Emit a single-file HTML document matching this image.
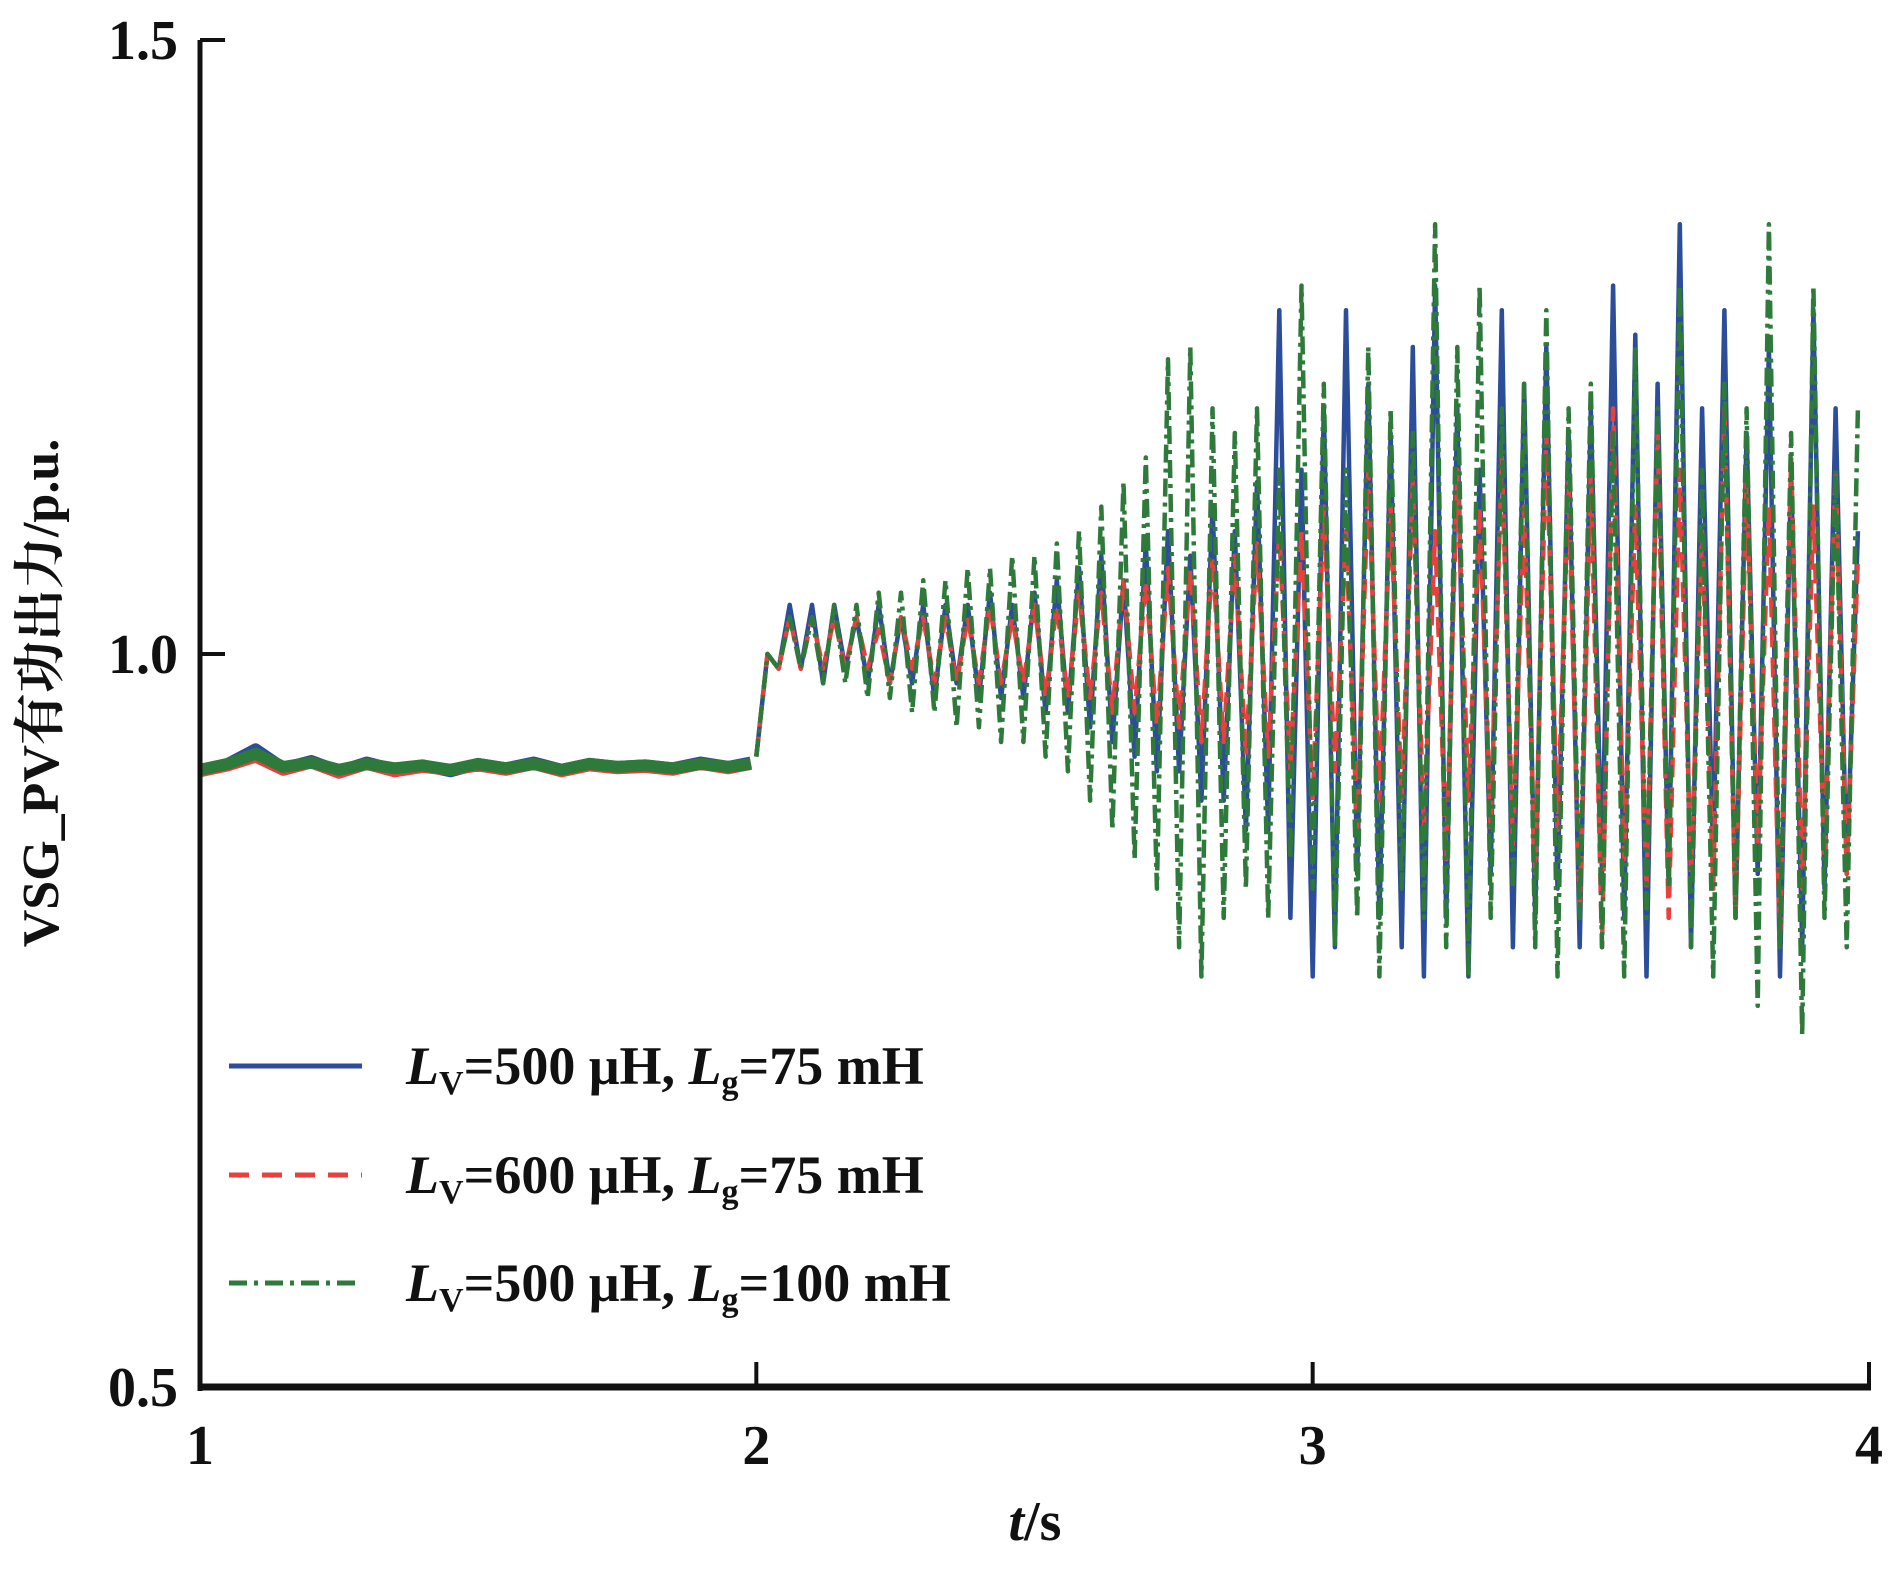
<!DOCTYPE html>
<html><head><meta charset="utf-8"><style>
body{margin:0;background:#fff}
svg text{font-family:"Liberation Serif","Noto Serif CJK SC",serif;fill:#111;font-weight:bold}
</style></head><body>
<svg width="1890" height="1591" viewBox="0 0 1890 1591">
<g id="plot"></g>
<g id="axes"></g>
<g>
 <g>
  <line x1="229" y1="1066" x2="362" y2="1066" stroke="#2c4d99" stroke-width="5"/>
  <text x="406" y="1084" font-size="54"><tspan font-style="italic">L</tspan><tspan font-size="34" dy="10">V</tspan><tspan dy="-10">=500 μH, </tspan><tspan font-style="italic">L</tspan><tspan font-size="34" dy="10">g</tspan><tspan dy="-10">=75 mH</tspan></text>
 </g>
 <g>
  <line x1="229" y1="1175" x2="362" y2="1175" stroke="#e8403c" stroke-width="5" stroke-dasharray="20 13"/>
  <text x="406" y="1193" font-size="54"><tspan font-style="italic">L</tspan><tspan font-size="34" dy="10">V</tspan><tspan dy="-10">=600 μH, </tspan><tspan font-style="italic">L</tspan><tspan font-size="34" dy="10">g</tspan><tspan dy="-10">=75 mH</tspan></text>
 </g>
 <g>
  <line x1="229" y1="1283" x2="362" y2="1283" stroke="#2e7a3a" stroke-width="5" stroke-dasharray="18 7 4 7"/>
  <text x="406" y="1301" font-size="54"><tspan font-style="italic">L</tspan><tspan font-size="34" dy="10">V</tspan><tspan dy="-10">=500 μH, </tspan><tspan font-style="italic">L</tspan><tspan font-size="34" dy="10">g</tspan><tspan dy="-10">=100 mH</tspan></text>
 </g>
</g>
<text x="1035" y="1540" font-size="56" text-anchor="middle"><tspan font-style="italic">t</tspan>/s</text>
<text transform="translate(58,693) rotate(-90)" font-size="52" text-anchor="middle">VSG_PV有功出力/p.u.</text>
</svg>
<script>
const xTicks=[1,2,3,4];
const yTicks=[0.5,1.0,1.5];
const yTickLabels=["0.5","1.0","1.5"];
const preTimes=[1.0,1.05,1.1,1.15,1.2,1.25,1.3,1.35,1.4,1.45,1.5,1.55,1.6,1.65,1.7,1.75,1.8,1.85,1.9,1.95,1.99];
const bluePre=[0.92,0.925,0.935,0.922,0.927,0.92,0.926,0.921,0.924,0.92,0.925,0.922,0.926,0.921,0.925,0.923,0.924,0.922,0.926,0.923,0.926];
const redPre=[0.92,0.924,0.93,0.921,0.926,0.919,0.925,0.92,0.923,0.921,0.924,0.921,0.925,0.92,0.924,0.922,0.923,0.921,0.925,0.922,0.925];
const greenPre=[0.921,0.925,0.932,0.923,0.926,0.921,0.925,0.922,0.924,0.921,0.925,0.922,0.925,0.921,0.925,0.923,0.924,0.922,0.925,0.923,0.925];
const tStart=2.0, tStep=0.02;
const blueVals=[0.93,1.0,0.99,1.04,0.99,1.04,0.98,1.04,0.99,1.03,0.98,1.04,0.98,1.03,0.98,1.04,0.97,1.04,0.98,1.04,0.97,1.05,0.97,1.04,0.97,
1.05,0.96,1.06,0.96,1.07,0.95,1.08,0.94,1.06,0.93,1.09,0.92,1.1,0.92,1.08,0.9,1.12,0.9,1.1,0.88,1.14,0.88,1.28,0.82,1.15,
0.78,1.2,0.8,1.28,0.85,1.22,0.82,1.18,0.8,1.25,0.78,1.3,0.82,1.2,0.78,1.15,0.85,1.28,0.8,1.22,0.82,1.25,0.84,1.18,0.8,
1.2,0.85,1.3,0.82,1.26,0.78,1.22,0.84,1.35,0.8,1.2,0.86,1.28,0.82,1.18,0.85,1.25,0.78,1.15,0.8,1.28,0.84,1.2,0.85,1.1];
const redVals=[0.93,1.0,0.99,1.03,0.99,1.03,0.99,1.03,0.99,1.03,0.99,1.02,0.98,1.03,0.99,1.03,0.98,1.03,0.98,1.03,0.98,1.04,0.98,1.03,0.98,
1.04,0.97,1.04,0.97,1.05,0.97,1.05,0.96,1.06,0.96,1.06,0.95,1.07,0.95,1.07,0.94,1.08,0.94,1.08,0.93,1.09,0.93,1.1,0.92,1.1,
0.9,1.12,0.92,1.1,0.88,1.15,0.9,1.12,0.9,1.14,0.88,1.1,0.86,1.15,0.9,1.12,0.88,1.16,0.87,1.12,0.85,1.18,0.88,1.14,0.82,
1.15,0.8,1.2,0.86,1.12,0.84,1.18,0.82,1.15,0.85,1.1,0.84,1.2,0.82,1.14,0.87,1.12,0.8,1.16,0.84,1.12,0.86,1.15,0.85,1.08];
const greenVals=[0.93,1.0,0.99,1.03,0.99,1.03,0.98,1.04,0.98,1.04,0.97,1.05,0.97,1.05,0.96,1.06,0.96,1.06,0.95,1.07,0.95,1.07,0.94,1.08,0.94,
1.08,0.93,1.09,0.92,1.1,0.9,1.12,0.88,1.14,0.86,1.16,0.84,1.24,0.8,1.25,0.78,1.2,0.82,1.18,0.84,1.2,0.82,1.15,0.86,1.3,
0.84,1.22,0.8,1.15,0.82,1.25,0.78,1.2,0.84,1.18,0.82,1.35,0.8,1.25,0.78,1.3,0.82,1.2,0.84,1.22,0.8,1.28,0.78,1.2,0.82,
1.22,0.8,1.18,0.78,1.25,0.82,1.2,0.84,1.3,0.8,1.15,0.78,1.22,0.82,1.2,0.76,1.35,0.8,1.18,0.74,1.3,0.82,1.15,0.8,1.2];
const X0=200,X1=1869;
function xs(t){return X0+(t-1)/3*(X1-X0);}
const yPix=[1387,654,40];
function ys(v){ if(v<=1.0) return yPix[0]+(v-0.5)/0.5*(yPix[1]-yPix[0]); return yPix[1]+(v-1.0)/0.5*(yPix[2]-yPix[1]);}
const NS="http://www.w3.org/2000/svg";
const plot=document.getElementById('plot'),axes=document.getElementById('axes');
function mk(tag,attrs,parent){const e=document.createElementNS(NS,tag);for(const k in attrs)e.setAttribute(k,attrs[k]);parent.appendChild(e);return e;}
const series=[["blue",bluePre,blueVals,"#2c4d99","none"],["red",redPre,redVals,"#e8403c","20 10"],["green",greenPre,greenVals,"#2e7a3a","18 6 4 6"]];
series.forEach(s=>{
  const pre=preTimes.map((t,i)=>xs(t).toFixed(1)+","+ys(s[1][i]).toFixed(1)).join(" ");
  const p1=mk('polyline',{points:pre,fill:"none",stroke:s[3],"stroke-width":12,"stroke-linejoin":"round"},plot);
  
  
  const pts=s[2].map((v,i)=>xs(tStart+i*tStep).toFixed(1)+","+ys(v).toFixed(1)).join(" ");
  const p2=mk('polyline',{points:pts,fill:"none",stroke:s[3],"stroke-width":4.5,"stroke-dasharray":s[4],"stroke-linejoin":"round"},plot);
  
  
});
mk('line',{x1:X0,y1:yPix[2],x2:X0,y2:yPix[0]+4,stroke:"#111","stroke-width":5},axes);
mk('line',{x1:X0-2,y1:yPix[0],x2:X1+2,y2:yPix[0],stroke:"#111","stroke-width":7},axes);
yTicks.forEach((v,i)=>{
  const l=mk('line',{x1:X0,y1:ys(v),x2:X0+25,y2:ys(v),stroke:"#111","stroke-width":4},axes);
  
  
  const t=mk('text',{x:X0-22,y:ys(v)+19,"font-size":56,"text-anchor":"end"},axes);
  t.textContent=yTickLabels[i];
  
  
});
xTicks.forEach(v=>{
  const l=mk('line',{x1:xs(v),y1:yPix[0],x2:xs(v),y2:yPix[0]-25,stroke:"#111","stroke-width":4},axes);
  
  
  const t=mk('text',{x:xs(v),y:yPix[0]+77,"font-size":56,"text-anchor":"middle"},axes);
  t.textContent=String(v);
  
  
});
</script>
</body></html>
